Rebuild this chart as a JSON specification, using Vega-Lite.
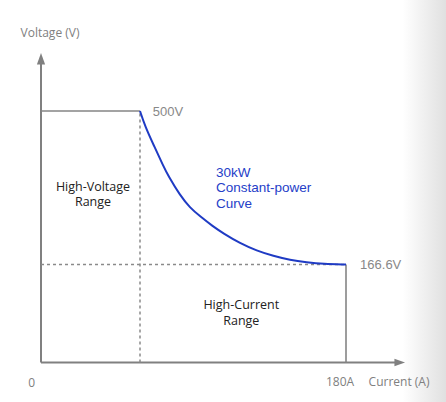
{
  "$schema": "https://vega.github.io/schema/vega-lite/v6.json",
  "width": 446,
  "height": 402,
  "autosize": "none",
  "padding": 0,
  "background": "white",
  "config": {"view": {"stroke": null}},
  "encoding": {
    "x": {"field": "I", "type": "quantitative", "axis": null,
      "scale": {"domain": [0, 60, 180], "range": [41, 140, 346], "nice": false, "zero": false, "clamp": false}},
    "y": {"field": "V", "type": "quantitative", "axis": null,
      "scale": {"domain": [0, 166.6, 500], "range": [362.5, 264.5, 111], "nice": false, "zero": false, "clamp": false}}
  },
  "layer": [
    {
      "data": {"values": [{"I": 213, "V": -120, "I2": 240, "V2": 800}]},
      "mark": {"type": "rect", "fill": {"gradient": "linear", "x1": 0, "x2": 1, "y1": 0, "y2": 0,
        "stops": [{"offset": 0, "color": "#ffffff"}, {"offset": 1, "color": "#dedede"}]}},
      "encoding": {"x2": {"field": "I2"}, "y2": {"field": "V2"}}
    },
    {
      "data": {"values": [
        {"I": 0, "V": 0, "g": "y"}, {"I": 0, "V": 604, "g": "y"},
        {"I": 0, "V": 0, "g": "x"}, {"I": 209, "V": 0, "g": "x"}
      ]},
      "mark": {"type": "line", "color": "#808080", "strokeWidth": 2},
      "encoding": {"detail": {"field": "g"}}
    },
    {
      "data": {"values": [
        {"I": -2.5, "V": 601, "V2": 601},
        {"I": 0, "V": 626, "V2": 601},
        {"I": 2.5, "V": 601, "V2": 601}
      ]},
      "mark": {"type": "area", "orient": "vertical", "color": "#808080", "opacity": 1, "interpolate": "linear"},
      "encoding": {"y2": {"field": "V2"}}
    },
    {
      "data": {"values": [
        {"V": -6.5, "I": 208.2, "I2": 208.2},
        {"V": 0, "I": 214.4, "I2": 208.2},
        {"V": 6.5, "I": 208.2, "I2": 208.2}
      ]},
      "mark": {"type": "area", "orient": "horizontal", "color": "#808080", "opacity": 1, "interpolate": "linear"},
      "encoding": {"x2": {"field": "I2"}}
    },
    {
      "data": {"values": [
        {"I": 0, "V": 500, "g": "top"}, {"I": 60, "V": 500, "g": "top"},
        {"I": 180, "V": 166.6, "g": "right"}, {"I": 180, "V": 0, "g": "right"}
      ]},
      "mark": {"type": "line", "color": "#858585", "strokeWidth": 1.6},
      "encoding": {"detail": {"field": "g"}}
    },
    {
      "data": {"values": [
        {"I": 60, "V": 0, "g": "v"}, {"I": 60, "V": 500, "g": "v"},
        {"I": 0, "V": 166.6, "g": "h"}, {"I": 180, "V": 166.6, "g": "h"}
      ]},
      "mark": {"type": "line", "color": "#8a8a8a", "strokeWidth": 1.5, "strokeDash": [3, 3]},
      "encoding": {"detail": {"field": "g"}}
    },
    {
      "data": {"values": [
        {"I": 60, "V": 500},
        {"I": 62.9, "V": 467.4},
        {"I": 68.2, "V": 424.0},
        {"I": 73.6, "V": 380.5},
        {"I": 76.5, "V": 358.8},
        {"I": 83.3, "V": 316.9},
        {"I": 89.1, "V": 289.8},
        {"I": 95.0, "V": 271.3},
        {"I": 102.5, "V": 249.4},
        {"I": 108.5, "V": 234.4},
        {"I": 118.3, "V": 212.6},
        {"I": 128.0, "V": 196.6},
        {"I": 137.7, "V": 185.1},
        {"I": 147.4, "V": 176.4},
        {"I": 157.1, "V": 171.4},
        {"I": 166.8, "V": 167.7},
        {"I": 180, "V": 166.6}
      ]},
      "mark": {"type": "line", "color": "#1f3bc4", "strokeWidth": 2, "interpolate": "basis"}
    },
    {
      "data": {"values": [
        {"I": 5.45, "V": 670, "label": "Voltage (V)"},
        {"I": -5.6, "V": -34, "label": "0"},
        {"I": 210.9, "V": -32.7, "label": "Current (A)"},
        {"I": 176.5, "V": -33, "label": "180A"}
      ]},
      "mark": {"type": "text", "font": "Open Sans", "fontSize": 12, "color": "#808080", "align": "center", "baseline": "middle"},
      "encoding": {"text": {"field": "label"}}
    },
    {
      "data": {"values": [
        {"I": 67.4, "V": 497, "label": "500V"},
        {"I": 188.2, "V": 166.6, "label": "166.6V"}
      ]},
      "mark": {"type": "text", "font": "Liberation Sans", "fontSize": 13, "color": "#888888", "align": "left", "baseline": "middle"},
      "encoding": {"text": {"field": "label"}}
    },
    {
      "data": {"values": [
        {"I": 104.3, "V": 366, "label": "30kW\nConstant-power\nCurve"}
      ]},
      "mark": {"type": "text", "font": "Liberation Sans", "fontSize": 13.5, "color": "#2540c8", "align": "left", "baseline": "middle", "lineBreak": "\n", "lineHeight": 15.6},
      "encoding": {"text": {"field": "label"}}
    },
    {
      "data": {"values": [
        {"I": 31.5, "V": 335.6, "label": "High-Voltage\nRange"},
        {"I": 119, "V": 97.8, "label": "High-Current\nRange"}
      ]},
      "mark": {"type": "text", "font": "Open Sans", "fontSize": 12.5, "color": "#222222", "align": "center", "baseline": "middle", "lineBreak": "\n", "lineHeight": 15.6},
      "encoding": {"text": {"field": "label"}}
    }
  ]
}
